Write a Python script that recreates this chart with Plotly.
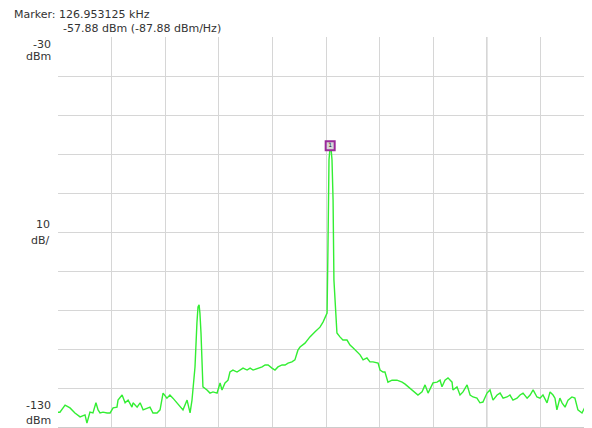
import plotly.graph_objects as go

# Spectrum trace: frequency (kHz) and level (dBm)
freq_khz = [0.0, 0.9, 3.3, 5.6, 7.9, 10.3, 12.6, 13.5, 14.9, 16.3, 17.7, 18.7, 19.6, 21.0,
            22.9, 24.3, 25.7, 27.5, 28.0, 29.9, 31.3, 32.7, 34.5, 35.0, 36.9, 38.3, 39.7,
            41.5, 42.9, 44.3, 46.2, 47.6, 49.0, 50.8, 52.2, 53.6, 55.5, 56.9, 58.3, 60.2,
            61.6, 62.5, 63.9, 64.8, 65.3, 65.8, 66.2, 66.7, 67.2, 67.6, 69.5, 70.9, 72.3,
            74.2, 75.6, 76.5, 77.9, 79.3, 80.2, 81.6, 83.5, 84.9, 86.3, 88.2, 89.6, 91.0,
            92.8, 95.2, 96.6, 98.0, 99.8, 101.2, 102.6, 104.5, 105.9, 107.3, 109.1, 110.5,
            111.9, 112.9, 115.2, 117.5, 119.9, 122.2, 123.6, 125.5, 125.9, 126.4, 126.953125,
            127.3, 127.8, 128.3, 128.7, 129.7, 130.1, 131.5, 132.9, 134.8, 136.2, 137.6,
            139.5, 140.9, 142.3, 144.1, 145.5, 146.9, 149.3, 150.2, 151.6, 152.5, 153.9,
            155.8, 158.1, 160.5, 161.9, 164.2, 166.5, 167.9, 169.8, 171.2, 172.6, 174.9,
            176.8, 178.2, 179.1, 180.5, 181.9, 183.8, 184.2, 186.1, 187.5, 188.9, 190.8,
            192.2, 193.6, 195.4, 196.8, 198.2, 200.1, 201.5, 202.9, 204.8, 206.2, 207.6,
            209.4, 210.8, 212.2, 214.1, 215.5, 216.9, 218.8, 220.2, 221.6, 223.4, 224.8,
            226.2, 228.1, 229.5, 230.9, 231.8, 232.7, 234.1, 235.1, 236.5, 237.9, 239.7,
            241.1, 242.5, 244.4, 245.8, 247.2, 249.1, 250.0]

level_dbm = [-126.2, -126.2, -124.4, -125.1, -126.4, -127.4, -126.9, -129.0, -126.2, -126.4,
             -123.8, -125.6, -126.4, -126.2, -126.4, -126.4, -125.1, -124.9, -123.1, -121.8,
             -123.8, -123.1, -124.9, -123.8, -124.9, -123.8, -125.6, -125.1, -124.9, -126.4,
             -126.4, -125.6, -121.3, -122.6, -121.8, -122.6, -123.8, -124.9, -125.6, -123.1,
             -126.4, -123.1, -114.6, -103.3, -99.2, -98.7, -100.8, -105.9, -116.2, -119.7,
             -120.5, -121.3, -121.0, -121.3, -118.7, -120.5, -118.7, -118.0, -115.9, -115.4,
             -115.9, -115.4, -114.9, -115.4, -114.9, -115.4, -115.1, -114.6, -114.1, -114.1,
             -114.9, -115.4, -114.6, -114.1, -114.1, -113.6, -113.3, -112.8, -110.3, -109.5,
             -108.5, -106.9, -105.6, -104.4, -103.1, -100.8, -84.6, -61.5, -57.88, -58.2,
             -61.5, -71.8, -92.3, -102.6, -105.9, -106.9, -107.7, -107.7, -109.0, -109.7,
             -110.8, -111.5, -112.8, -112.3, -113.3, -113.3, -113.6, -115.4, -115.9, -115.9,
             -118.5, -118.0, -118.0, -118.5, -119.0, -120.0, -121.0, -121.8, -121.0, -119.2,
             -121.3, -118.7, -118.5, -118.0, -119.7, -118.0, -117.4, -118.5, -120.5, -119.7,
             -121.8, -121.0, -119.2, -121.8, -122.3, -122.6, -123.8, -123.6, -121.3, -120.5,
             -123.1, -121.8, -121.3, -122.6, -122.3, -121.8, -123.1, -122.6, -121.8, -121.3,
             -122.6, -121.8, -120.5, -122.3, -122.6, -121.8, -123.8, -121.0, -121.8, -122.6,
             -125.6, -122.6, -123.8, -124.9, -123.1, -122.3, -122.6, -125.6, -126.4, -124.9,
             -125.6, -123.6, -122.6, -122.6]

marker_khz = 126.953125
marker_dbm = -57.88

# Axis settings
x_span = [0.0, 249.07]
y_span = [-130, -30]
x_step = 25
y_step = 10
emph_grid_khz = 200

header_1 = "Marker: 126.953125 kHz"
header_2 = "-57.88 dBm (-87.88 dBm/Hz)"
top_label = ["-30", "dBm"]
mid_label = ["10", "dB/"]
bot_label = ["-130", "dBm"]

FONT = "DejaVu Sans"
TXT = "#333333"

fig = go.Figure()
fig.add_trace(go.Scatter(x=freq_khz, y=level_dbm, mode="lines",
                         line=dict(color="#33ee33", width=1.4), hoverinfo="skip",
                         showlegend=False))
fig.add_trace(go.Scatter(x=[marker_khz], y=[marker_dbm], mode="markers+text",
                         marker=dict(symbol="square", size=9, color="#d8d8d8",
                                     line=dict(color="#9a2a9a", width=2)),
                         text=["1"], textposition="middle center",
                         textfont=dict(size=6, color="#222222", family=FONT),
                         showlegend=False, hoverinfo="skip"))

fig.add_shape(type="line", xref="x", yref="paper", x0=emph_grid_khz, x1=emph_grid_khz,
              y0=0, y1=1, line=dict(color="#a8a8a8", width=1), layer="below")

fig.update_xaxes(range=x_span, tick0=0, dtick=x_step, showticklabels=False,
                 showgrid=True, gridcolor="#d6d6d6", gridwidth=1, zeroline=False,
                 showline=True, linecolor="#cccccc", ticks="")
fig.update_yaxes(range=y_span, tick0=-130, dtick=y_step, showticklabels=False,
                 showgrid=True, gridcolor="#d6d6d6", gridwidth=1, zeroline=False,
                 showline=False, ticks="")

def ann(text, x, y, xanchor, size=11, align="center"):
    fig.add_annotation(text=text, x=x, y=y, xref="paper", yref="paper",
                       xanchor=xanchor, yanchor="middle", showarrow=False,
                       align=align, borderpad=0,
                       font=dict(family=FONT, size=size, color=TXT))

indent = "\u00a0" * 14
ann(header_1 + "<br>" + indent + header_2, -0.0843, 1.040, "left", 11, "left")
ann(top_label[0], -0.011, 0.982, "right")
ann(top_label[1], -0.011, 0.951, "right")
ann(mid_label[0], -0.013, 0.518, "right")
ann(mid_label[1], -0.013, 0.479, "right")
ann(bot_label[0], -0.011, 0.0564, "right")
ann(bot_label[1], -0.011, 0.0154, "right")

# page body has an 8px margin, so the figure is 8px smaller each way
fig.update_layout(width=584, height=420, margin=dict(l=50, r=0, t=29, b=1),
                  paper_bgcolor="white", plot_bgcolor="white",
                  font=dict(family=FONT, size=11, color=TXT))

fig.write_html("out.html")
